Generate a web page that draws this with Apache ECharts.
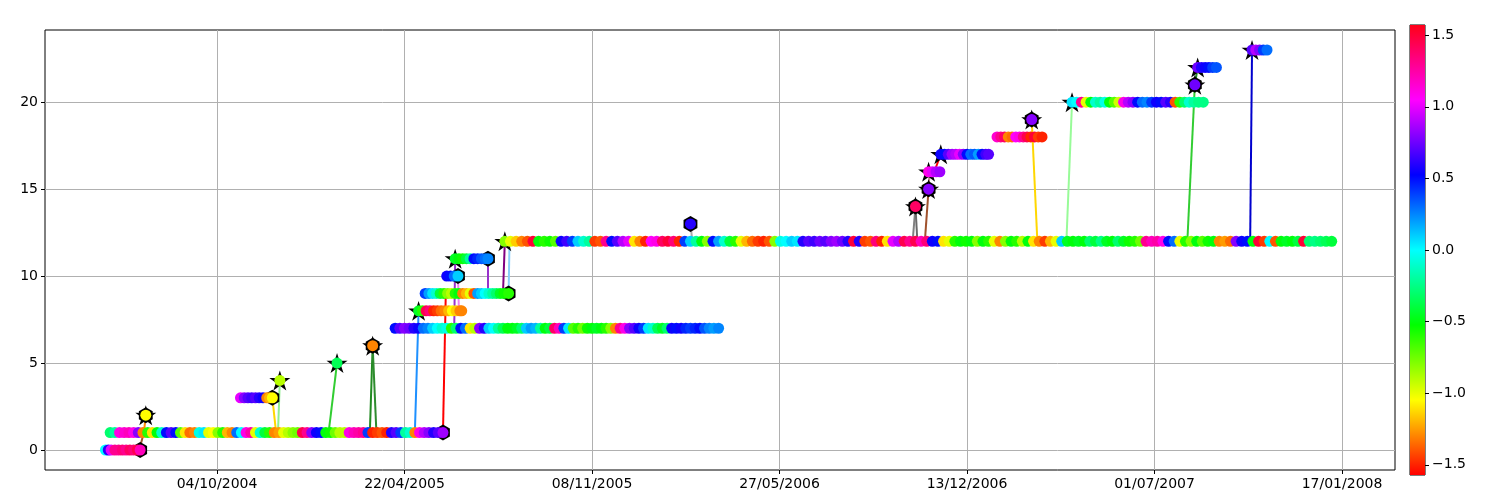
<!DOCTYPE html>
<html>
<head>
<meta charset="utf-8">
<script src="https://cdn.jsdelivr.net/npm/echarts@6/dist/echarts.min.js"></script>
<style>
  html, body { margin: 0; padding: 0; background: #fff; }
  #chart { width: 1500px; height: 500px; }
</style>
</head>
<body>
<div id="chart"></div>
<script>
const HALF_PI = Math.PI / 2
const ORIGIN = Date.UTC(2004, 5, 1) // day 0 = 01/06/2004

const xTicks = [125, 325, 525, 725, 925, 1125, 1325]
const yTicks = [0, 5, 10, 15, 20]
const cbarTicks = [-1.5, -1, -0.5, 0, 0.5, 1, 1.5]

// commits of each branch (index = level): [day, angle]
const b0 = [[6,0.0],[9,0.6],[12,1.0],[16,1.3],[20,1.3],[24,1.35],[28,1.3],[32,1.4],[36,1.35],[40,1.45],[43,1.2]]
const b1 = [[11,-0.3],[16,-0.2],[21,1.1],[26,1.15],[31,1.2],[36,1.1],[41,0.8],[46,-1.3],[51,-0.6],[56,-1.1],
  [61,-0.5],[66,-0.1],[71,0.5],[76,0.7],[81,0.5],[86,-0.7],[91,-1.1],[96,-1.35],[101,-1.3],[106,-0.05],
  [111,0.05],[116,-1.0],[121,-1.05],[126,-0.8],[131,-0.6],[136,-1.2],[141,-1.3],[146,0.3],[151,0.0],[156,1.1],
  [161,1.25],[166,-1.0],[171,-0.1],[176,-0.4],[181,-0.6],[186,-1.3],[191,-1.25],[196,-1.0],[201,-0.9],[206,-0.8],
  [211,-0.75],[216,1.45],[221,1.3],[226,0.8],[231,0.55],[236,0.5],[241,-0.5],[246,-0.55],[251,-0.75],[256,-0.9],
  [261,-0.9],[266,1.1],[271,1.2],[276,1.25],[281,1.3],[286,0.4],[291,-1.5],[296,-1.45],[301,-1.4],[306,-1.5],
  [311,0.6],[316,0.7],[321,0.4],[326,-0.2],[331,-0.1],[336,-1.3],[341,1.1],[346,0.9],[351,0.8],[356,0.6],
  [361,0.7],[366,0.85]]
const b2 = [[49,-1.05]]
const b3 = [[150,1.0],[154,0.8],[158,0.7],[162,0.65],[166,0.7],[170,0.6],[174,0.55],[178,-1.3],[181,-1.2],[184,-1.05]]
const b4 = [[192,-0.9]]
const b5 = [[253,-0.35]]
const b6 = [[291,-1.3]]
const b7 = [[315,0.5],[320,0.7],[325,0.8],[330,0.75],[335,0.6],[340,0.55],[345,0.3],[350,0.25],[355,0.1],[360,0.0],
  [365,-0.1],[370,-0.05],[375,-0.6],[380,-0.3],[385,0.5],[390,0.3],[395,-1.1],[400,-0.9],[405,0.8],[410,0.6],
  [415,0.1],[420,0.0],[425,-0.2],[430,-0.35],[435,-0.5],[440,-0.5],[445,-0.45],[450,-0.3],[455,0.1],[460,0.2],
  [465,0.15],[470,-0.2],[475,-0.5],[480,-0.4],[485,1.4],[490,1.2],[495,0.4],[500,0.05],[505,-0.7],[510,-0.6],
  [515,-0.75],[520,-0.55],[525,-0.5],[530,-0.45],[535,-0.5],[540,-0.6],[545,-0.8],[550,-1.3],[555,1.3],[560,1.1],
  [565,0.8],[570,0.7],[575,0.55],[580,0.4],[585,0.05],[590,-0.1],[595,-0.35],[600,-0.45],[605,-0.3],[610,0.55],
  [615,0.5],[620,0.55],[625,0.45],[630,0.4],[635,0.45],[640,0.5],[645,0.35],[650,0.25],[655,0.2],[660,0.25]]
const b8 = [[340,-0.45],[344,-0.6],[348,1.45],[352,1.35],[356,-1.5],[360,-1.45],[364,-1.35],[368,-1.3],[372,-1.2],
  [376,-1.05],[380,-1.15],[384,-1.3],[386,-1.3]]
const b9 = [[347,0.4],[351,0.2],[355,0.05],[359,-0.1],[363,-0.4],[367,-0.6],[371,-0.8],[375,-0.9],[379,-0.6],[383,-0.5],
  [387,-1.3],[391,-1.2],[395,-1.0],[399,-1.4],[403,0.2],[407,0.1],[411,0.0],[415,-0.1],[419,-0.2],[423,-0.3],
  [427,-0.45],[431,-0.55],[436,-0.6]]
const b10 = [[370,0.55],[374,0.5],[378,0.3],[382,0.1]]
const b11 = [[379,-0.45],[383,-0.5],[387,-0.55],[391,-0.4],[395,-0.2],[399,0.5],[403,0.45],[407,0.35],[411,0.3],[414,0.25]]
const b12 = [[432,-0.8],[438,-1.0],[444,-1.15],[450,-1.3],[456,-1.4],[462,1.5],[468,-0.5],[474,-0.6],[480,-0.55],[486,-0.7],
  [492,0.55],[498,0.65],[504,0.4],[510,0.1],[516,-0.1],[522,-0.2],[528,-1.45],[534,-1.4],[540,1.3],[546,0.5],
  [552,0.7],[558,0.9],[564,1.0],[570,-1.1],[576,-1.3],[582,-1.5],[588,1.05],[594,1.1],[600,1.4],[606,1.5],
  [612,1.35],[618,-1.5],[624,0.4],[630,0.1],[636,-0.2],[642,-0.5],[648,-0.8],[654,0.5],[660,0.2],[666,-0.1],
  [672,-0.4],[678,-0.6],[684,-1.0],[690,-1.2],[696,-1.35],[702,-1.45],[708,-1.5],[714,-1.4],[720,-0.8],[726,-0.05],
  [732,0.0],[738,0.1],[744,0.05],[750,0.6],[756,0.7],[762,0.65],[768,0.75],[774,0.7],[780,0.8],[786,0.85],
  [792,0.75],[798,0.6],[804,1.5],[810,0.6],[816,-1.45],[822,-1.4],[828,1.35],[834,-1.5],[840,-1.1],[846,1.0],
  [852,0.9],[858,1.45],[864,1.3],[870,1.45],[876,1.2],[882,1.35],[888,0.55],[894,0.5],[900,-1.1],[906,-1.0],
  [912,-0.6],[918,-0.5],[924,-0.55],[930,-0.5],[936,-0.8],[942,-0.5],[948,-0.6],[954,-1.0],[960,-1.3],[966,-0.8],
  [972,-0.5],[978,-0.6],[984,-0.9],[990,-0.5],[996,-1.1],[1002,-1.3],[1008,-1.45],[1014,-1.2],[1020,-1.0],[1026,0.1],
  [1032,-0.45],[1038,-0.5],[1044,-0.45],[1050,-0.5],[1056,-0.3],[1062,-0.4],[1068,-0.25],[1074,-0.45],[1080,-0.5],[1086,-0.3],
  [1092,-0.45],[1098,-0.55],[1104,-0.6],[1110,-0.75],[1116,1.3],[1122,1.2],[1128,1.25],[1134,1.1],[1140,0.5],[1146,0.3],
  [1152,-1.0],[1158,-0.6],[1164,-0.8],[1170,-0.5],[1176,-0.7],[1182,-0.55],[1188,-0.5],[1194,-1.3],[1200,-1.25],[1206,-1.35],
  [1212,0.8],[1218,0.55],[1224,0.5],[1230,-0.5],[1236,1.5],[1242,-1.45],[1248,0.0],[1254,-1.4],[1260,-0.5],[1266,-0.45],
  [1272,-0.5],[1278,-0.4],[1284,1.5],[1290,-0.3],[1296,-0.25],[1302,-0.3],[1308,-0.35],[1314,-0.4]]
const b13 = [[630,0.6]]
const b14 = [[870,1.4]]
const b15 = [[884,0.8]]
const b16 = [[884,1.1],[888,1.0],[892,0.9],[896,0.85]]
const b17 = [[897,0.55],[901,0.5],[905,0.7],[909,0.85],[913,0.9],[917,1.0],[921,0.8],[925,0.5],[929,0.3],[933,0.35],
  [937,0.2],[941,0.5],[945,0.65],[948,0.7]]
const b18 = [[957,1.15],[961,1.3],[965,1.4],[969,-1.3],[973,-1.35],[977,1.05],[981,1.1],[985,1.3],[989,1.45],[993,-1.5],
  [997,1.5],[1001,-1.45],[1005,-1.5]]
const b19 = [[994,0.8]]
const b20 = [[1037,0.05],[1042,0.0],[1047,1.3],[1052,-1.0],[1057,-0.5],[1062,-0.1],[1067,-0.2],[1072,-0.05],[1077,-0.5],
  [1082,-0.7],[1087,-0.95],[1092,1.1],[1097,0.9],[1102,0.8],[1107,0.5],[1112,0.3],[1117,0.25],[1122,0.4],[1127,0.55],
  [1132,0.5],[1137,0.7],[1142,0.6],[1147,-1.4],[1152,-0.6],[1157,-0.3],[1162,-0.1],[1167,-0.2],[1172,-0.25],[1177,-0.25]]
const b21 = [[1168,0.75]]
const b22 = [[1171,0.75],[1175,0.6],[1179,0.55],[1183,0.5],[1187,0.4],[1191,0.35]]
const b23 = [[1229,0.7],[1233,0.9],[1237,0.8],[1241,0.4],[1245,0.3]]

const branches = [b0,b1,b2,b3,b4,b5,b6,b7,b8,b9,b10,b11,b12,b13,b14,b15,b16,b17,b18,b19,b20,b21,b22,b23]
// branches that show a star on their first commit / a hexagon on their last
const startMarked = [2,4,5,6,8,11,12,14,15,16,17,19,20,21,22,23]
const endMarked = [0,1,2,3,6,9,10,11,13,14,15,19,21]

// branch / merge links: [fromDay, fromLevel, toDay, toLevel]
const links = [
  [42,0,47,1],[47,1,49,2],[184,3,188,1],[190,1,192,4],[244,1,253,5],[288,1,291,6],[295,1,291,6],
  [336,1,340,8],[366,1,369,9],[378,7,379,11],[383,8,382,10],[414,11,414,9],[430,9,432,12],[436,9,437,12],
  [632,12,630,13],[867,12,870,14],[872,12,870,14],[880,12,884,15],[884,15,885,16],[890,16,897,17],
  [1000,12,994,19],[1031,12,1037,20],[1160,12,1168,21],[1168,21,1171,22],[1227,12,1229,23]
]
const linkColors = ['#a0522d','#ff8c00','#ffd700','#90ee90','#32cd32','#228b22','#2e8b2e',
  '#1e90ff','#ff0000','#9932cc','#ee82ee','#9932cc','#800080','#87cefa',
  '#a9a9a9','#808080','#696969','#a0522d','#bc8f8f','#ff0000',
  '#ffd700','#98fb98','#32cd32','#228b22','#0000cd']

const hsvColors = ['#ff0000','#ffff00','#00ff00','#00ffff','#0000ff','#ff00ff','#ff0018']

const STAR = 'path://M0,-10L2.23,-3.07L9.51,-3.09L3.61,1.17L5.88,8.09L0,3.8L-5.88,8.09L-3.61,1.17L-9.51,-3.09L-2.23,-3.07Z'
const HEX = 'path://M0,-10L8.66,-5L8.66,5L0,10L-8.66,5L-8.66,-5Z'

const dots = branches.flatMap((pts, lvl) => pts.map(p => [p[0], lvl, p[1]]))
const stars = startMarked.map(l => [branches[l][0][0], l])
const hexes = endMarked.map(l => [branches[l][branches[l].length - 1][0], l])

const fmtDate = d => {
  const t = new Date(ORIGIN + d * 864e5)
  const p = n => String(n).padStart(2, '0')
  return p(t.getUTCDate()) + '/' + p(t.getUTCMonth() + 1) + '/' + t.getUTCFullYear()
}
const font = { color: '#000', fontSize: 14, fontFamily: 'DejaVu Sans' }
const tick = { show: true, length: 4, lineStyle: { color: '#000', width: 1 } }

const chart = echarts.init(document.getElementById('chart'))
chart.setOption({
  animation: false,
  backgroundColor: '#fff',
  grid: [
    { left: 45, right: 105, top: 30, bottom: 30, show: true, borderColor: '#000', borderWidth: 1 },
    { left: 1410, width: 15, top: 25, height: 450, show: true, borderColor: '#000', borderWidth: 1 }
  ],
  xAxis: [
    {
      type: 'value', min: -58.5, max: 1381.5,
      axisLine: { show: false, onZero: false },
      axisTick: { ...tick, customValues: xTicks },
      axisLabel: { ...font, margin: 7, customValues: xTicks, formatter: fmtDate },
      splitLine: { show: true, lineStyle: { color: '#b0b0b0', width: 1 } }
    },
    { type: 'value', gridIndex: 1, min: 0, max: 1, show: false }
  ],
  yAxis: [
    {
      type: 'value', min: -1.15, max: 24.15,
      axisLine: { show: false, onZero: false },
      axisTick: { ...tick, customValues: yTicks },
      axisLabel: { ...font, margin: 7, customValues: yTicks },
      splitLine: { show: true, lineStyle: { color: '#b0b0b0', width: 1 } }
    },
    {
      type: 'value', gridIndex: 1, position: 'right', min: -HALF_PI, max: HALF_PI,
      axisLine: { show: false, onZero: false },
      axisTick: { ...tick, customValues: cbarTicks },
      axisLabel: { ...font, margin: 7, customValues: cbarTicks,
        formatter: v => (v < 0 ? '\u2212' : '') + Math.abs(v).toFixed(1) },
      splitLine: { show: false }
    }
  ],
  visualMap: {
    type: 'continuous', show: false, seriesIndex: 3, dimension: 2,
    min: -HALF_PI, max: HALF_PI, inRange: { color: hsvColors, opacity: 1 }
  },
  series: [
    {
      type: 'lines', coordinateSystem: 'cartesian2d', z: 1, silent: true,
      lineStyle: { width: 2, opacity: 1 },
      data: links.map((l, i) => ({ coords: [[l[0], l[1]], [l[2], l[3]]], lineStyle: { color: linkColors[i] } }))
    },
    {
      type: 'scatter', z: 2, silent: true, symbol: STAR, symbolSize: 21, symbolKeepAspect: true,
      itemStyle: { color: '#000', opacity: 1 }, data: stars
    },
    {
      type: 'scatter', z: 3, silent: true, symbol: HEX, symbolSize: 16, symbolKeepAspect: true,
      itemStyle: { color: '#000', opacity: 1 }, data: hexes
    },
    {
      type: 'scatter', z: 4, silent: true, symbolSize: 11, itemStyle: { opacity: 1, borderWidth: 0 }, data: dots
    },
    {
      type: 'custom', xAxisIndex: 1, yAxisIndex: 1, silent: true, data: [[0, 0]],
      renderItem: (params, api) => {
        const p0 = api.coord([0, -HALF_PI])
        const p1 = api.coord([1, HALF_PI])
        return {
          type: 'rect',
          shape: { x: p0[0], y: p1[1], width: p1[0] - p0[0], height: p0[1] - p1[1] },
          style: {
            fill: new echarts.graphic.LinearGradient(0, 1, 0, 0,
              hsvColors.map((c, i) => ({ offset: i / (hsvColors.length - 1), color: c })))
          }
        }
      }
    }
  ]
})
</script>
</body>
</html>
